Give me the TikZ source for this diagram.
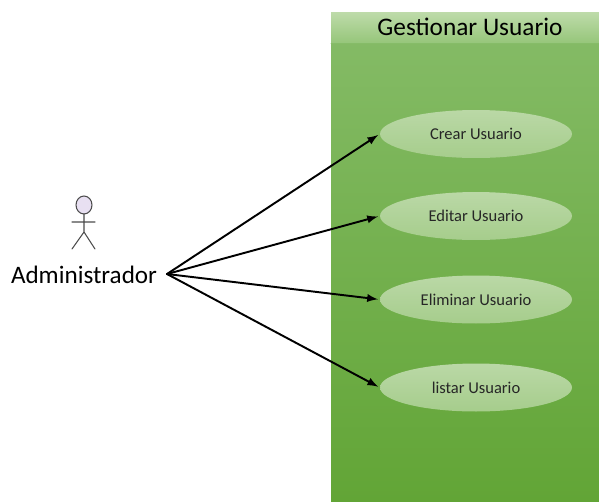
\documentclass[tikz,border=0pt]{standalone}
\usepackage{fontspec}
\setmainfont{Carlito}
\usetikzlibrary{shapes.geometric}
\definecolor{panelTop}{RGB}{134,188,104}
\definecolor{panelBot}{RGB}{98,165,54}
\definecolor{headTop}{RGB}{190,219,170}
\definecolor{headBot}{RGB}{150,198,122}
\definecolor{caseTop}{RGB}{186,216,166}
\definecolor{caseBot}{RGB}{166,205,140}
\definecolor{headActor}{RGB}{232,224,242}
\tikzset{
	usecase/.style={ellipse,minimum width=3.84cm,minimum height=0.96cm,inner sep=0pt,top color=caseTop,bottom color=caseBot,font=\fontsize{9.4}{11}\selectfont,text=black!85},
	link/.style={->,>=latex,line width=1.1pt,shorten >=1pt},
	stick/.style={draw=black!70,line width=0.6pt}
}
\begin{document}
\begin{tikzpicture}[x=0.02cm,y=-0.02cm,line join=round,line cap=round]
	\useasboundingbox (0,0) rectangle (599,501);
	% sistema
	\fill[top color=panelTop,bottom color=panelBot] (331,12) rectangle (599,501);
	\fill[top color=headTop,bottom color=headBot] (331,12) rectangle (599,43);
	\draw[color=panelTop,line width=0.5pt] (331,43)--(599,43);
	\node (titulo) at (470,27) {\fontsize{14.4}{17}\selectfont Gestionar Usuario};
	% casos de uso
	\node[usecase] (crear) at (476,134) {Crear Usuario};
	\node[usecase] (editar) at (476,216) {Editar Usuario};
	\node[usecase] (eliminar) at (476,299.5) {Eliminar Usuario};
	\node[usecase] (listar) at (476,387.5) {listar Usuario};
	% actor
	\draw[stick,fill=headActor] (84,205) ellipse (8 and 9);
	\draw[stick] (84,214)--(84,232) (72,222)--(95,222) (72,249)--(84,232)--(95,249);
	\node (admin) at (84,275) {\fontsize{14.3}{17}\selectfont Administrador};
	\coordinate (origen) at (167,274);
	\foreach \caso in {crear,editar,eliminar,listar}
		\draw[link] (origen)--(\caso.west);
\end{tikzpicture}
\end{document}
